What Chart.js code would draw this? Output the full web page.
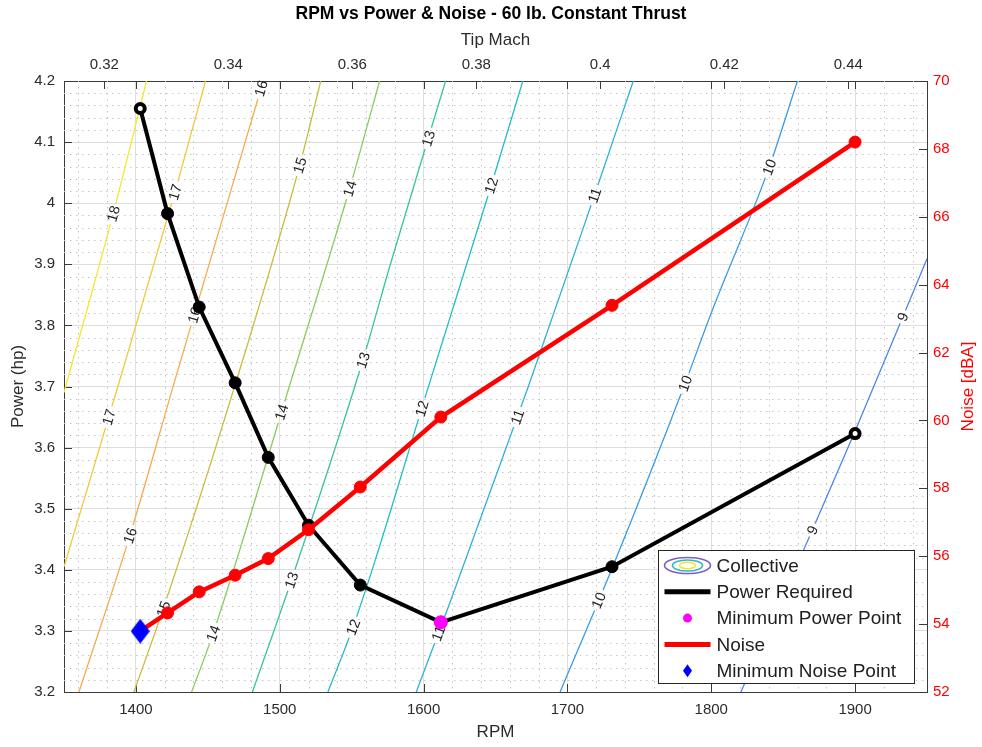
<!DOCTYPE html>
<html>
<head>
<meta charset="utf-8">
<title>RPM vs Power &amp; Noise</title>
<script src="https://cdn.jsdelivr.net/npm/chart.js@4.4.1/dist/chart.umd.min.js"></script>
<style>
  html, body { margin: 0; padding: 0; background: #ffffff; }
  canvas { display: block; }
</style>
</head>
<body>
<canvas id="chart" width="982" height="747"></canvas>
<script>
// Rotor sweep at 60 lb constant thrust: shaft power and noise against RPM
const rpm = [1403, 1422, 1444, 1469, 1492, 1520, 1556, 1612, 1731, 1900];
const powerHp = [4.155, 3.983, 3.830, 3.706, 3.584, 3.473, 3.375, 3.314, 3.405, 3.623];
const noiseDbA = [53.79, 54.33, 54.95, 55.44, 55.93, 56.78, 58.04, 60.10, 63.39, 68.20];
const minPowerPoint = [1612, 3.314];
const minNoisePoint = [1403, 53.79];

// Collective pitch contours as [RPM, hp] pairs
const collective9  = [[1820.6, 3.2], [1870.3, 3.465], [1899.3, 3.623], [1950, 3.909]];
const collective10 = [[1694.9, 3.2], [1731.5, 3.405], [1781.3, 3.702], [1799.8, 3.819], [1840.3, 4.059], [1859.9, 4.2]];
const collective11 = [[1594.9, 3.2], [1618.1, 3.345], [1672.4, 3.697], [1718.8, 4.013], [1745.8, 4.2]];
const collective12 = [[1533.5, 3.2], [1550.9, 3.306], [1566.0, 3.413], [1603.0, 3.697], [1647.0, 4.029], [1669.0, 4.2]];
const collective13 = [[1481.0, 3.2], [1508.1, 3.383], [1557.8, 3.743], [1576.4, 3.896], [1615.3, 4.2]];
const collective14 = [[1438.7, 3.2], [1453.7, 3.296], [1506.9, 3.702], [1548.6, 4.024], [1569.4, 4.2]];
const collective15 = [[1398.6, 3.2], [1419.0, 3.336], [1469.9, 3.710], [1513.9, 4.062], [1528.5, 4.2]];
const collective16 = [[1360.4, 3.2], [1395.8, 3.456], [1427.1, 3.710], [1488.5, 4.2]];
const collective17 = [[1350, 3.405], [1387.7, 3.702], [1427.1, 4.018], [1448.4, 4.2]];
const collective18 = [[1350, 3.690], [1384.2, 3.983], [1407.4, 4.2]];

const contourLevels = [9, 10, 11, 12, 13, 14, 15, 16, 17, 18];
const contourPaths = [collective9, collective10, collective11, collective12, collective13,
                      collective14, collective15, collective16, collective17, collective18];
const contourColors = ['#4d86ea', '#3a9ce6', '#2db2dc', '#22bec4', '#38c49e',
                       '#8ccb5e', '#c9bb3a', '#f7aa4c', '#f1c83c', '#f3e82c'];

// Where each contour carries its level label: [level, hp]
const contourLabelSpots = [
  [18, 3.983], [17, 4.018], [17, 3.650], [16, 4.188], [16, 3.817], [16, 3.456],
  [15, 4.062], [15, 3.336], [14, 4.024], [14, 3.658], [14, 3.296],
  [13, 4.106], [13, 3.743], [13, 3.383], [12, 4.029], [12, 3.664], [12, 3.306],
  [11, 4.013], [11, 3.650], [11, 3.296], [10, 4.059], [10, 3.705], [10, 3.350],
  [9, 3.814], [9, 3.465]
];

// Axis ticks
const rpmTicks = [1400, 1500, 1600, 1700, 1800, 1900];
const rpmTickLabels = ['1400', '1500', '1600', '1700', '1800', '1900'];
const machTicks = [0.32, 0.34, 0.36, 0.38, 0.40, 0.42, 0.44];
const machTickLabels = ['0.32', '0.34', '0.36', '0.38', '0.4', '0.42', '0.44'];
const powerTicks = [3.2, 3.3, 3.4, 3.5, 3.6, 3.7, 3.8, 3.9, 4.0, 4.1, 4.2];
const powerTickLabels = ['3.2', '3.3', '3.4', '3.5', '3.6', '3.7', '3.8', '3.9', '4', '4.1', '4.2'];
const noiseTicks = [52, 54, 56, 58, 60, 62, 64, 66, 68, 70];
const noiseTickLabels = ['52', '54', '56', '58', '60', '62', '64', '66', '68', '70'];

const FONT = '"Liberation Sans", Arial, Helvetica, sans-serif';
const INK = '#2b2b2b';
const FRAME = '#3a3a3a';
const RED = '#ff0000';
Chart.defaults.font.family = FONT;

function diamondSprite(w, h, color) {
  const c = document.createElement('canvas');
  c.width = w; c.height = h;
  const g = c.getContext('2d');
  g.fillStyle = color;
  g.beginPath();
  g.moveTo(w / 2, 0); g.lineTo(w, h / 2); g.lineTo(w / 2, h); g.lineTo(0, h / 2);
  g.closePath(); g.fill();
  return c;
}

const xy = (xs, ys) => xs.map((x, i) => ({ x, y: ys[i] }));
const lastIdx = rpm.length - 1;

const contourSets = contourLevels.map((level, i) => ({
  label: 'Collective ' + level,
  level,
  data: contourPaths[i].map(([x, y]) => ({ x, y })),
  borderColor: contourColors[i],
  borderWidth: 1.3,
  pointRadius: 0,
  cubicInterpolationMode: 'monotone',
  xAxisID: 'x', yAxisID: 'y',
  order: 10
}));

const datasets = [
  ...contourSets,
  {
    label: 'Power Required',
    data: xy(rpm, powerHp),
    borderColor: '#000000',
    borderWidth: 4,
    pointRadius: rpm.map((_, i) => (i === 0 || i === lastIdx) ? 4.5 : 6),
    pointBorderWidth: rpm.map((_, i) => (i === 0 || i === lastIdx) ? 4 : 1),
    pointBackgroundColor: rpm.map((_, i) => (i === 0 || i === lastIdx) ? '#ffffff' : '#000000'),
    pointBorderColor: '#000000',
    xAxisID: 'x', yAxisID: 'y',
    order: 5
  },
  {
    label: 'Minimum Power Point',
    data: [{ x: minPowerPoint[0], y: minPowerPoint[1] }],
    showLine: false,
    pointRadius: 7,
    pointBorderWidth: 0,
    pointBackgroundColor: '#ff00ff',
    pointBorderColor: '#ff00ff',
    xAxisID: 'x', yAxisID: 'y',
    order: 4
  },
  {
    label: 'Noise',
    data: xy(rpm, noiseDbA),
    borderColor: RED,
    borderWidth: 4.5,
    pointRadius: 6,
    pointBorderWidth: 1,
    pointBackgroundColor: RED,
    pointBorderColor: RED,
    xAxisID: 'x', yAxisID: 'y2',
    order: 3
  },
  {
    label: 'Minimum Noise Point',
    data: [{ x: minNoisePoint[0], y: minNoisePoint[1] }],
    showLine: false,
    pointStyle: diamondSprite(19, 25, '#0000ff'),
    pointRadius: 9,
    xAxisID: 'x', yAxisID: 'y2',
    order: 2
  }
];

// Label placement along each contour (position and slope from the scales)
const LABEL_FONT = '14.5px ' + FONT;
function contourLabelGeometry(chart) {
  const xs = chart.scales.x, ys = chart.scales.y, ctx = chart.ctx;
  ctx.save();
  ctx.font = LABEL_FONT;
  const out = contourLabelSpots.map(([level, hp]) => {
    const path = contourPaths[contourLevels.indexOf(level)];
    let k = 1;
    while (k < path.length - 1 && path[k][1] < hp) k++;
    const [r0, h0] = path[k - 1], [r1, h1] = path[k];
    const t = (hp - h0) / (h1 - h0);
    const r = r0 + t * (r1 - r0);
    const angle = Math.atan2(ys.getPixelForValue(h1) - ys.getPixelForValue(h0),
                             xs.getPixelForValue(r1) - xs.getPixelForValue(r0));
    const text = String(level);
    return { level, text, angle,
             cx: xs.getPixelForValue(r), cy: ys.getPixelForValue(hp),
             half: ctx.measureText(text).width / 2 + 3 };
  });
  ctx.restore();
  return out;
}

const contourLabelPlugin = {
  id: 'contourLabels',
  beforeDatasetDraw(chart, args) {
    const ds = chart.data.datasets[args.index];
    const ctx = chart.ctx;
    if (ds.level !== undefined) {
      // leave a gap in the contour where its labels sit
      const gaps = contourLabelGeometry(chart).filter(g => g.level === ds.level);
      ctx.save();
      ctx.beginPath();
      ctx.rect(0, 0, chart.width, chart.height);
      gaps.forEach(g => {
        const c = Math.cos(g.angle), s = Math.sin(g.angle), hh = 6;
        const pts = [[g.half, hh], [-g.half, hh], [-g.half, -hh], [g.half, -hh]]
          .map(([u, v]) => [g.cx + u * c - v * s, g.cy + u * s + v * c]);
        ctx.moveTo(pts[0][0], pts[0][1]);
        for (let i = 1; i < 4; i++) ctx.lineTo(pts[i][0], pts[i][1]);
        ctx.closePath();
      });
      ctx.clip('evenodd');
    } else if (ds.label === 'Power Required') {
      ctx.save();
      ctx.font = LABEL_FONT;
      ctx.fillStyle = '#222222';
      ctx.textAlign = 'center';
      ctx.textBaseline = 'middle';
      contourLabelGeometry(chart).forEach(g => {
        ctx.save();
        ctx.translate(g.cx, g.cy);
        ctx.rotate(g.angle);
        ctx.fillText(g.text, 0, 1);
        ctx.restore();
      });
      ctx.restore();
    }
  },
  afterDatasetDraw(chart, args) {
    if (chart.data.datasets[args.index].level !== undefined) chart.ctx.restore();
  }
};

// Minor dotted grid, inward tick marks, and the right-hand axis title
const axisDecorPlugin = {
  id: 'axisDecor',
  beforeDatasetsDraw(chart) {
    const { ctx, chartArea: a, scales } = chart;
    const px = v => Math.round(v) + 0.5;
    ctx.save();
    ctx.lineWidth = 1;
    ctx.strokeStyle = '#c4c4c4';
    ctx.setLineDash([1.5, 4.5]);
    ctx.beginPath();
    for (let r = 1360; r < 1950; r += 20) {
      if (r % 100 === 0) continue;
      const x = px(scales.x.getPixelForValue(r));
      ctx.moveTo(x, a.top); ctx.lineTo(x, a.bottom);
    }
    for (let i = 1; i < 50; i++) {
      if (i % 5 === 0) continue;
      const y = px(scales.y.getPixelForValue(3.2 + i * 0.02));
      ctx.moveTo(a.left, y); ctx.lineTo(a.right, y);
    }
    ctx.stroke();

    ctx.setLineDash([]);
    ctx.strokeStyle = FRAME;
    const L = 8;
    ctx.beginPath();
    rpmTicks.forEach(v => {
      const x = px(scales.x.getPixelForValue(v));
      ctx.moveTo(x, a.bottom); ctx.lineTo(x, a.bottom - L);
      ctx.moveTo(x, a.top); ctx.lineTo(x, a.top + L);
    });
    machTicks.forEach(v => {
      const x = px(scales.xTop.getPixelForValue(v));
      ctx.moveTo(x, a.top); ctx.lineTo(x, a.top + L);
    });
    powerTicks.forEach(v => {
      const y = px(scales.y.getPixelForValue(v));
      ctx.moveTo(a.left, y); ctx.lineTo(a.left + L, y);
    });
    noiseTicks.forEach(v => {
      const y = px(scales.y2.getPixelForValue(v));
      ctx.moveTo(a.right, y); ctx.lineTo(a.right - L, y);
    });
    ctx.stroke();
    ctx.restore();
  },
  afterDraw(chart) {
    const { ctx, chartArea: a } = chart;
    ctx.save();
    ctx.translate(a.right + 41, (a.top + a.bottom) / 2);
    ctx.rotate(-Math.PI / 2);
    ctx.font = '17px ' + FONT;
    ctx.fillStyle = RED;
    ctx.textAlign = 'center';
    ctx.textBaseline = 'middle';
    ctx.fillText('Noise [dBA]', 0, 0);
    ctx.restore();
  }
};

// Boxed legend in the lower right of the plot
const legendPlugin = {
  id: 'boxLegend',
  afterDraw(chart) {
    const { ctx, chartArea: a } = chart;
    const entries = [{ text: 'Collective', kind: 'contour' }];
    chart.data.datasets.forEach(ds => {
      if (ds.level !== undefined) return;
      entries.push({ text: ds.label, kind: ds.showLine === false ? 'marker' : 'line', ds });
    });
    const w = 256, h = 133;
    const x0 = Math.round(a.right - 13 - w) + 0.5, y0 = Math.round(a.bottom - 9 - h) + 0.5;
    ctx.save();
    ctx.fillStyle = '#ffffff';
    ctx.fillRect(x0, y0, w, h);
    ctx.strokeStyle = '#262626';
    ctx.lineWidth = 1;
    ctx.strokeRect(x0, y0, w, h);
    ctx.font = '19px ' + FONT;
    ctx.textBaseline = 'middle';
    ctx.textAlign = 'left';
    const iconX = x0 + 29;
    entries.forEach((e, i) => {
      const cy = y0 + 15 + i * 26.3;
      if (e.kind === 'contour') {
        [[23, 8, '#7d5ec6'], [15, 5.5, '#2fbcc0'], [8, 3.3, '#f0e632']].forEach(([rx, ry, col]) => {
          ctx.beginPath();
          ctx.ellipse(iconX, cy, rx, ry, 0, 0, Math.PI * 2);
          ctx.strokeStyle = col;
          ctx.lineWidth = 1.6;
          ctx.stroke();
        });
      } else if (e.kind === 'line') {
        ctx.beginPath();
        ctx.moveTo(x0 + 6, cy); ctx.lineTo(x0 + 52, cy);
        ctx.strokeStyle = e.ds.borderColor;
        ctx.lineWidth = 5;
        ctx.stroke();
      } else if (e.ds.pointStyle && typeof e.ds.pointStyle === 'object') {
        ctx.fillStyle = '#0000ff';
        ctx.beginPath();
        ctx.moveTo(iconX, cy - 6.5); ctx.lineTo(iconX + 4.5, cy);
        ctx.lineTo(iconX, cy + 6.5); ctx.lineTo(iconX - 4.5, cy);
        ctx.closePath(); ctx.fill();
      } else {
        ctx.fillStyle = e.ds.pointBackgroundColor;
        ctx.beginPath();
        ctx.arc(iconX, cy, 4.5, 0, Math.PI * 2);
        ctx.fill();
      }
      ctx.fillStyle = '#1e1e1e';
      ctx.fillText(e.text, x0 + 58, cy + 1);
    });
    ctx.restore();
  }
};

const tickFont = { size: 15 };
const setTicks = (values) => (scale) => { scale.ticks = values.map(v => ({ value: v })); };

new Chart(document.getElementById('chart'), {
  type: 'line',
  data: { datasets },
  options: {
    responsive: false,
    devicePixelRatio: 1,
    animation: false,
    events: [],
    layout: { padding: 0 },
    plugins: {
      legend: { display: false },
      tooltip: { enabled: false },
      title: {
        display: true,
        text: 'RPM vs Power & Noise - 60 lb. Constant Thrust',
        color: '#000000',
        font: { size: 17.5, weight: 'bold' },
        padding: { top: 4, bottom: 0 }
      }
    },
    scales: {
      x: {
        type: 'linear', axis: 'x', position: 'bottom', min: 1350, max: 1950,
        afterBuildTicks: setTicks(rpmTicks),
        afterFit: s => { s.height = 55; },
        ticks: { callback: (v, i) => rpmTickLabels[i], padding: 9, color: INK, font: tickFont, maxRotation: 0, autoSkip: false },
        grid: { color: '#dedede', drawTicks: false },
        border: { color: FRAME, width: 1 },
        title: { display: true, text: 'RPM', color: INK, font: { size: 17 }, padding: { top: 0, bottom: 4 } }
      },
      xTop: {
        type: 'linear', axis: 'x', position: 'top', min: 0.3135, max: 0.4527,
        afterBuildTicks: setTicks(machTicks),
        afterFit: s => { s.height = 56; },
        ticks: { callback: (v, i) => machTickLabels[i], padding: 7, color: INK, font: tickFont, maxRotation: 0, autoSkip: false },
        grid: { display: false, drawTicks: false },
        border: { color: FRAME, width: 1 },
        title: { display: true, text: 'Tip Mach', color: INK, font: { size: 17 }, padding: { top: 5, bottom: 0 } }
      },
      y: {
        type: 'linear', axis: 'y', position: 'left', min: 3.2, max: 4.2,
        afterBuildTicks: setTicks(powerTicks),
        afterFit: s => { s.width = 64; },
        ticks: { callback: (v, i) => powerTickLabels[i], padding: 9, color: INK, font: tickFont, autoSkip: false },
        grid: { color: '#dedede', drawTicks: false },
        border: { color: FRAME, width: 1 },
        title: { display: true, text: 'Power (hp)', color: INK, font: { size: 17 }, padding: { top: 8, bottom: 0 } }
      },
      y2: {
        type: 'linear', axis: 'y', position: 'right', min: 52, max: 70,
        afterBuildTicks: setTicks(noiseTicks),
        afterFit: s => { s.width = 55; },
        ticks: { callback: (v, i) => noiseTickLabels[i], padding: 6, color: RED, font: tickFont, autoSkip: false },
        grid: { display: false, drawTicks: false },
        border: { color: FRAME, width: 1 },
        title: { display: false }
      }
    }
  },
  plugins: [axisDecorPlugin, contourLabelPlugin, legendPlugin]
});
</script>
</body>
</html>
